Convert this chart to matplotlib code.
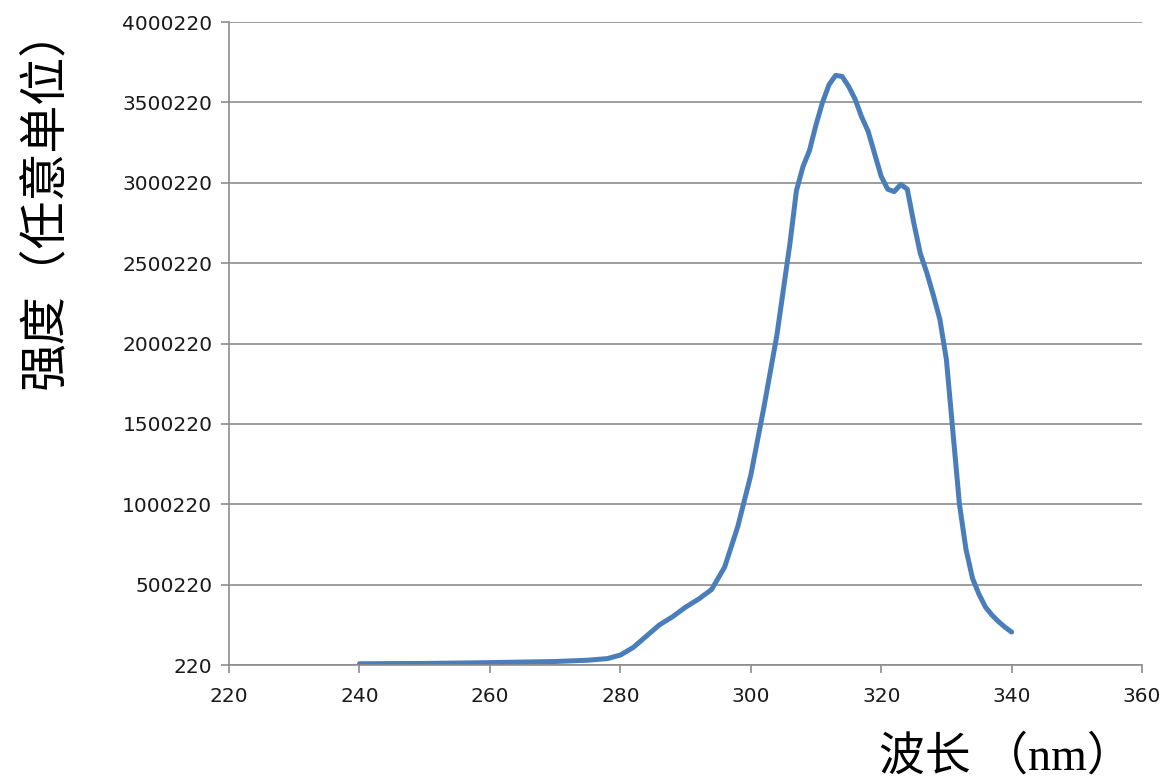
import matplotlib
matplotlib.use("Agg")
import matplotlib.pyplot as plt

# emission spectrum
wavelength = [240, 250, 260, 270, 275, 278, 280, 282, 284, 286, 288, 290, 292, 294,
              296, 298, 300, 302, 304, 306, 307, 308, 309, 310, 311, 312, 313, 314,
              315, 316, 317, 318, 319, 320, 321, 322, 323, 324, 325, 326, 327, 328,
              329, 330, 331, 332, 333, 334, 335, 336, 337, 338, 339, 340]
intensity = [8000, 10000, 15000, 22000, 30000, 40000, 62000, 110000, 180000, 250000,
             300000, 360000, 410000, 470000, 610000, 860000, 1180000, 1600000,
             2050000, 2620000, 2950000, 3100000, 3200000, 3360000, 3500000, 3610000,
             3668000, 3662000, 3600000, 3520000, 3410000, 3320000, 3180000, 3040000,
             2960000, 2945000, 2990000, 2960000, 2750000, 2560000, 2440000, 2300000,
             2150000, 1900000, 1450000, 1000000, 720000, 540000, 440000, 360000,
             310000, 270000, 235000, 205000]

x_ticks = [220, 240, 260, 280, 300, 320, 340, 360]
y_ticks = [220, 500220, 1000220, 1500220, 2000220, 2500220, 3000220, 3500220, 4000220]

x_label = "波长 （nm）"
y_label = "强度（任意单位）"

fig = plt.figure(figsize=(11.65, 7.83), dpi=100)
ax = fig.add_axes([0.1966, 0.1507, 0.7837, 0.8212])

ax.plot(wavelength, intensity, color="#4A7EBB", linewidth=3.6,
        solid_capstyle="round", solid_joinstyle="round")

ax.set_xlim(220, 360)
ax.set_ylim(220, 4000220)
ax.set_xticks(x_ticks)
ax.set_yticks(y_ticks)
ax.set_xticklabels([str(v) for v in x_ticks])
ax.set_yticklabels([str(v) for v in y_ticks])

ax.grid(axis="y", color="#8c8c8c", linewidth=1.2)
ax.set_axisbelow(True)
for side in ["top", "right"]:
    ax.spines[side].set_visible(False)
for side in ["left", "bottom"]:
    ax.spines[side].set_color("#8c8c8c")
    ax.spines[side].set_linewidth(1.2)

ax.tick_params(axis="both", direction="out", length=6, width=1.2, color="#8c8c8c",
               labelsize=14.5, labelcolor="#1a1a1a", pad=6)
ax.tick_params(axis="x", pad=10)

fig.text(0.038, 0.748, y_label, rotation=90, ha="center", va="center", fontsize=34.5,
         family=["Noto Sans CJK SC", "DejaVu Sans"])
fig.text(0.863, 0.032, x_label, ha="center", va="center", fontsize=33,
         family=["Liberation Serif", "Noto Sans CJK SC"])

fig.savefig("out.png", dpi=100)
